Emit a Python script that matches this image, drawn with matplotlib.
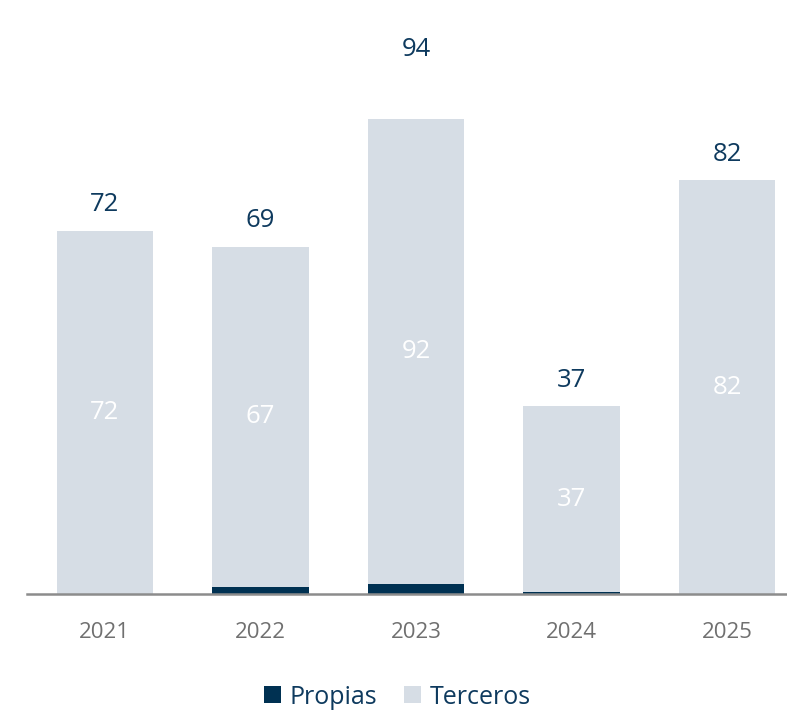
import matplotlib
matplotlib.use('Agg')
import matplotlib.pyplot as plt
import numpy as np

plt.rcParams['font.family'] = ['Open Sans', 'DejaVu Sans']

years = ['2021', '2022', '2023', '2024', '2025']
propias = [0, 1.4, 2.0, 0.3, 0]
terceros = [72, 67.4, 92, 37, 82]

C_DARK = '#003152'
C_LIGHT = '#d6dde5'
C_TEXT = '#0e3a5e'

# gap between bar top and total label (data units); 2023 sits higher in the original
label_gap = [5.2, 5.1, 13.8, 5.0, 5.0]

fig = plt.figure(figsize=(7.87, 7.11), dpi=100)
ax = fig.add_axes([27 / 787, 117 / 711, 778 / 787, 574 / 711])

x = np.arange(len(years))
w = 0.62
ax.bar(x, propias, w, color=C_DARK, label='Propias', zorder=2)
ax.bar(x, terceros, w, bottom=propias, color=C_LIGHT, label='Terceros', zorder=2)

for i in range(len(years)):
    total = propias[i] + terceros[i]
    ax.text(x[i], total + label_gap[i], f'{round(total)}', ha='center', va='center',
            fontsize=18.5, color=C_TEXT)
    ax.text(x[i], propias[i] + terceros[i] / 2, f'{round(terceros[i])}',
            ha='center', va='center', fontsize=18.5, color='white')

ax.set_xlim(-0.5, 4.5)
ax.set_ylim(0, 113.7)
ax.set_xticks(x)
ax.set_xticklabels(years, fontsize=16, color='#707070')
ax.tick_params(axis='x', length=0, pad=20)
ax.set_yticks([])
for s in ['top', 'right', 'left']:
    ax.spines[s].set_visible(False)
ax.spines['bottom'].set_color('#8c8c8c')
ax.spines['bottom'].set_linewidth(1.8)
ax.spines['bottom'].set_zorder(3)

fig.legend(loc='center', bbox_to_anchor=(0.505, 14 / 711), ncol=2, frameon=False,
           fontsize=18, handlelength=0.68, handleheight=0.68, handletextpad=0.36,
           columnspacing=1.05, labelcolor=C_TEXT)

fig.savefig('out.png', dpi=100, facecolor='white')
